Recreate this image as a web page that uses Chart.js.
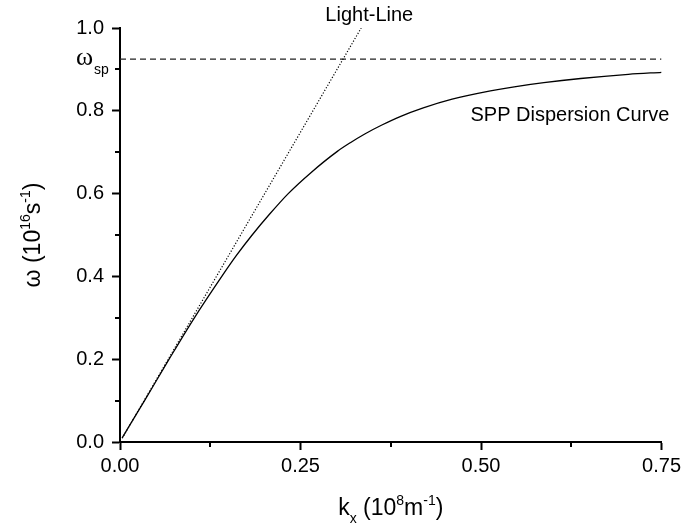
<!DOCTYPE html>
<html>
<head>
<meta charset="utf-8">
<script src="https://cdn.jsdelivr.net/npm/chart.js@4/dist/chart.umd.min.js"></script>
<style>
  html, body { margin: 0; padding: 0; background: #fff; }
  #wrap { width: 685px; height: 529px; position: relative; }
</style>
</head>
<body>
<div id="wrap"><canvas id="c" width="685" height="529"></canvas></div>
<script>
// ---- data ----
const sppK = [0.003, 0.034, 0.068, 0.103, 0.141, 0.161, 0.183, 0.207, 0.233, 0.264, 0.301, 0.319, 0.339, 0.362, 0.388, 0.420, 0.460, 0.513, 0.546, 0.587, 0.638, 0.704, 0.750];
const sppW = [0.010, 0.100, 0.200, 0.300, 0.400, 0.450, 0.500, 0.550, 0.600, 0.650, 0.702, 0.723, 0.744, 0.765, 0.786, 0.807, 0.828, 0.848, 0.858, 0.868, 0.878, 0.888, 0.893];
const lightK = [0.003, 0.334];
const lightW = [0.009, 1.000];
const omegaSp = 0.925;
const spK = [0.0, 0.75];
const xMajor = [0.00, 0.25, 0.50, 0.75];
const xMinor = [0.125, 0.375, 0.625];
const yMajor = [0.0, 0.2, 0.4, 0.6, 0.8, 1.0];
const yMinor = [0.1, 0.3, 0.5, 0.7, 0.9];
const xLabels = ['0.00', '0.25', '0.50', '0.75'];
const yLabels = ['0.0', '0.2', '0.4', '0.6', '0.8', '1.0'];

const SANS = '"Liberation Sans", Arial, Helvetica, sans-serif';
const SERIF = '"Liberation Serif", "Times New Roman", serif';

const toPts = (xs, ys) => xs.map((v, i) => ({x: v, y: ys[i]}));

function rich(ctx, segs, x, y) {
  let w = 0;
  segs.forEach(s => { ctx.font = s[1] + 'px ' + (s[3] || SANS); w += ctx.measureText(s[0]).width; });
  let cx = x - w / 2;
  segs.forEach(s => {
    ctx.font = s[1] + 'px ' + (s[3] || SANS);
    ctx.fillText(s[0], cx, y + s[2]);
    cx += ctx.measureText(s[0]).width;
  });
}

const annot = {
  id: 'annot',
  afterDraw(chart) {
    const {ctx, chartArea: ca, scales: {x, y}} = chart;
    ctx.save();
    ctx.strokeStyle = '#000';
    ctx.lineWidth = 2;
    ctx.beginPath();
    xMinor.forEach(v => { const p = Math.round(x.getPixelForValue(v)); ctx.moveTo(p, ca.bottom); ctx.lineTo(p, ca.bottom + 5); });
    yMinor.forEach(v => { const p = Math.round(y.getPixelForValue(v)); ctx.moveTo(ca.left, p); ctx.lineTo(ca.left - 5, p); });
    ctx.stroke();

    ctx.fillStyle = '#000';
    ctx.textBaseline = 'alphabetic';
    ctx.textAlign = 'left';
    ctx.font = '20px ' + SANS;
    ctx.fillText('Light-Line', x.getPixelForValue(0.2844), y.getPixelForValue(1.017));
    ctx.fillText('SPP Dispersion Curve', x.getPixelForValue(0.4854), y.getPixelForValue(0.775));

    // omega_sp label
    const ysp = y.getPixelForValue(omegaSp);
    ctx.font = '26px ' + SERIF;
    ctx.fillText('\u03c9', ca.left - 44, ysp + 6);
    ctx.font = '14px ' + SANS;
    ctx.fillText('sp', ca.left - 26, ysp + 15);

    // x title
    rich(ctx, [
      ['k', 23, 0], ['x', 14, 8], [' (10', 23, 0], ['8', 14, -10], ['m', 23, 0], ['-1', 14, -10], [')', 23, 0]
    ], (ca.left + ca.right) / 2, ca.bottom + 73);

    // y title
    ctx.translate(ca.left - 80, (ca.top + ca.bottom) / 2);
    ctx.rotate(-Math.PI / 2);
    rich(ctx, [
      ['\u03c9', 23, 0], [' (10', 23, 0], ['16', 14, -10], ['s', 23, 0], ['-1', 14, -10], [')', 23, 0]
    ], 0, 0);
    ctx.restore();
  }
};

new Chart(document.getElementById('c'), {
  type: 'scatter',
  data: {
    datasets: [
      {
        label: 'SPP Dispersion Curve',
        data: toPts(sppK, sppW),
        showLine: true, borderColor: '#000', borderWidth: 1.3,
        pointRadius: 0, cubicInterpolationMode: 'monotone', fill: false
      },
      {
        label: 'Light-Line',
        data: toPts(lightK, lightW),
        showLine: true, borderColor: '#000', borderWidth: 1.2, borderDash: [1.2, 1.8],
        pointRadius: 0, fill: false
      },
      {
        label: 'omega_sp',
        data: toPts(spK, [omegaSp, omegaSp]),
        showLine: true, borderColor: '#222', borderWidth: 1.3, borderDash: [6, 4],
        pointRadius: 0, fill: false
      }
    ]
  },
  plugins: [annot],
  options: {
    responsive: false,
    animation: false,
    events: [],
    layout: { padding: { top: 28, right: 20, left: 0, bottom: 0 } },
    plugins: { legend: { display: false }, tooltip: { enabled: false } },
    scales: {
      x: {
        type: 'linear', min: 0, max: 0.75,
        afterBuildTicks: s => { s.ticks = xMajor.map(v => ({value: v})); },
        afterFit: s => { s.height = 87; },
        ticks: {
          color: '#000', font: { family: SANS, size: 20 }, padding: 4, maxRotation: 0,
          callback: (v, i) => xLabels[i]
        },
        grid: { display: true, drawOnChartArea: false, drawTicks: true, tickLength: 8, tickWidth: 2, tickColor: '#000' },
        border: { display: true, color: '#000', width: 2 }
      },
      y: {
        type: 'linear', min: 0, max: 1.0,
        afterBuildTicks: s => { s.ticks = yMajor.map(v => ({value: v})); },
        afterFit: s => { s.width = 120; },
        ticks: {
          color: '#000', font: { family: SANS, size: 20 }, padding: 8,
          callback: (v, i) => yLabels[i]
        },
        grid: { display: true, drawOnChartArea: false, drawTicks: true, tickLength: 8, tickWidth: 2, tickColor: '#000' },
        border: { display: true, color: '#000', width: 2 }
      }
    }
  }
});
</script>
</body>
</html>
